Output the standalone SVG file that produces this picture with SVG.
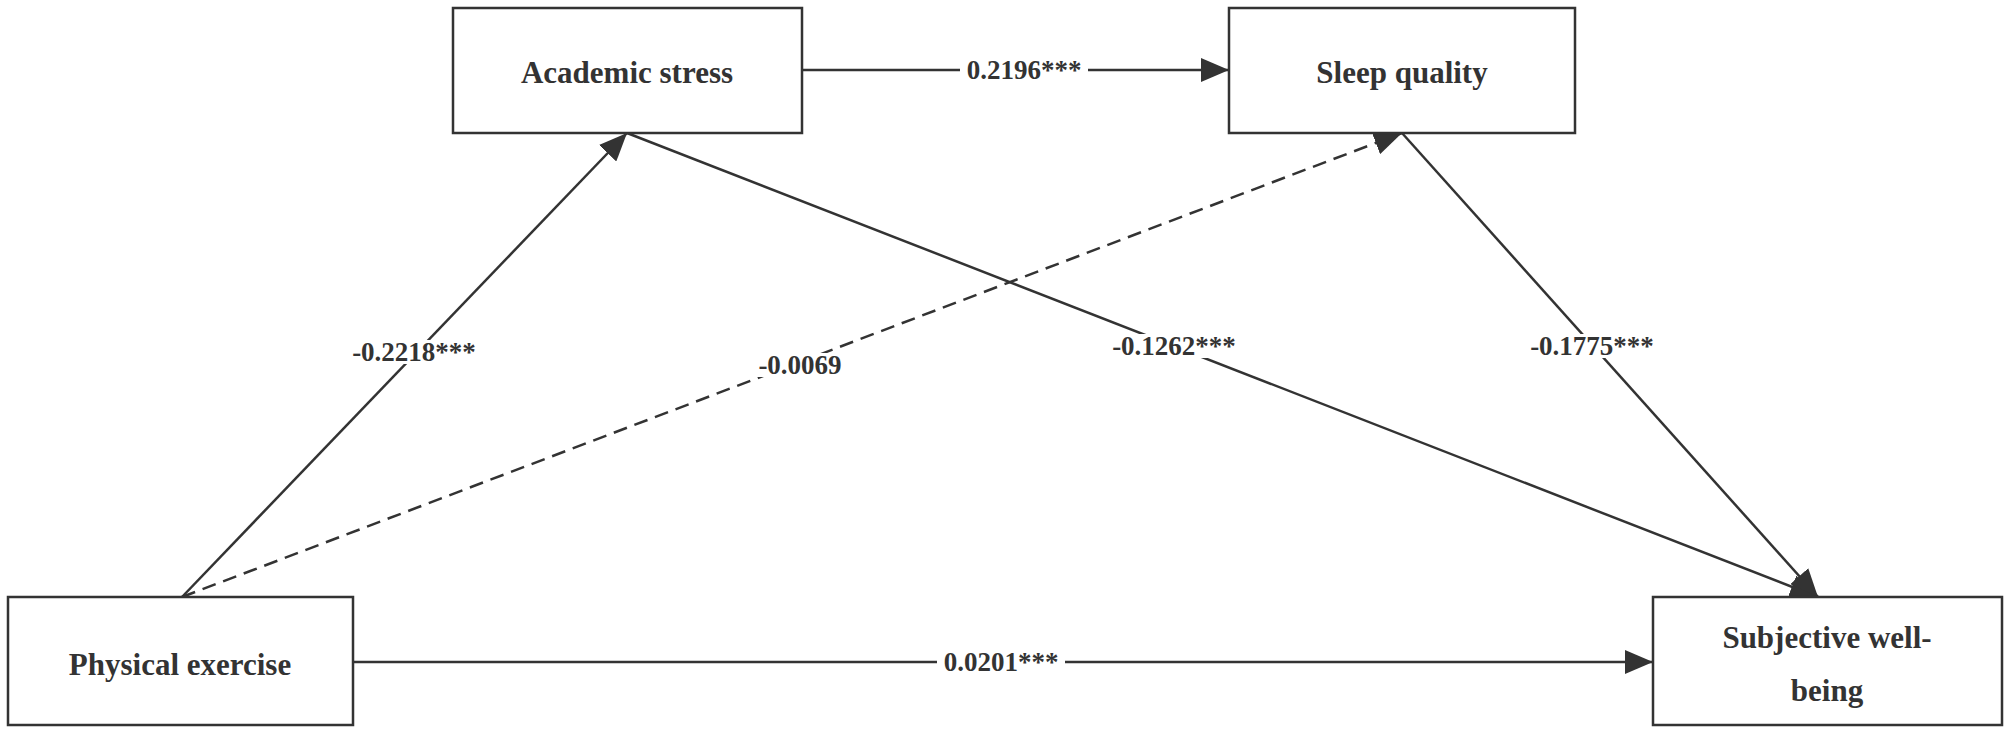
<svg xmlns="http://www.w3.org/2000/svg" width="2008" height="734" viewBox="0 0 2008 734">
<style>
.box{fill:#fff;stroke:#333;stroke-width:2.5}
.nt{font-family:"Liberation Serif",serif;font-weight:bold;font-size:31px;fill:#333;text-anchor:middle;dominant-baseline:central}
.e{stroke:#333;stroke-width:2.5;fill:none;marker-end:url(#ah)}
.lb{font-family:"Liberation Serif",serif;font-weight:bold;font-size:27px;fill:#333;text-anchor:middle;dominant-baseline:central}
.bg{fill:#fff}
</style>
<defs><marker id="ah" viewBox="0 0 10 10" refX="10" refY="5" markerWidth="28" markerHeight="24" markerUnits="userSpaceOnUse" orient="auto" preserveAspectRatio="none"><path d="M0,0L10,5L0,10z" fill="#333"/></marker></defs>
<rect width="2008" height="734" fill="#fff"/>
<g id="connectors">
<line class="e" x1="802" y1="70" x2="1229" y2="70"/>
<line class="e" x1="182" y1="597" x2="627" y2="133"/>
<line class="e" x1="182" y1="597" x2="1402" y2="133" stroke-dasharray="14,8"/>
<line class="e" x1="627" y1="133" x2="1818" y2="597"/>
<line class="e" x1="1402" y1="133" x2="1818" y2="597"/>
<line class="e" x1="353" y1="662" x2="1653" y2="662"/>
<rect class="bg" x="960" y="58" width="128" height="24"/><text class="lb" x="1024" y="70">0.2196***</text>
<rect class="bg" x="342" y="340" width="144" height="24"/><text class="lb" x="414" y="352">-0.2218***</text>
<rect class="bg" x="752" y="353" width="96" height="24"/><text class="lb" x="800" y="365">-0.0069</text>
<rect class="bg" x="1102" y="334" width="144" height="24"/><text class="lb" x="1174" y="346">-0.1262***</text>
<rect class="bg" x="1520" y="334" width="144" height="24"/><text class="lb" x="1592" y="346">-0.1775***</text>
<rect class="bg" x="937" y="650" width="128" height="24"/><text class="lb" x="1001" y="662">0.0201***</text>
</g>
<g id="academic"><rect class="box" x="453" y="8" width="349" height="125"/><text class="nt" x="627" y="72">Academic stress</text></g>
<g id="sleep"><rect class="box" x="1229" y="8" width="346" height="125"/><text class="nt" x="1402" y="72">Sleep quality</text></g>
<g id="exercise"><rect class="box" x="8" y="597" width="345" height="128"/><text class="nt" x="180" y="664">Physical exercise</text></g>
<g id="swb"><rect class="box" x="1653" y="597" width="349" height="128"/><text class="nt" x="1827" y="637">Subjective well-</text><text class="nt" x="1827" y="690">being</text></g>
</svg>
